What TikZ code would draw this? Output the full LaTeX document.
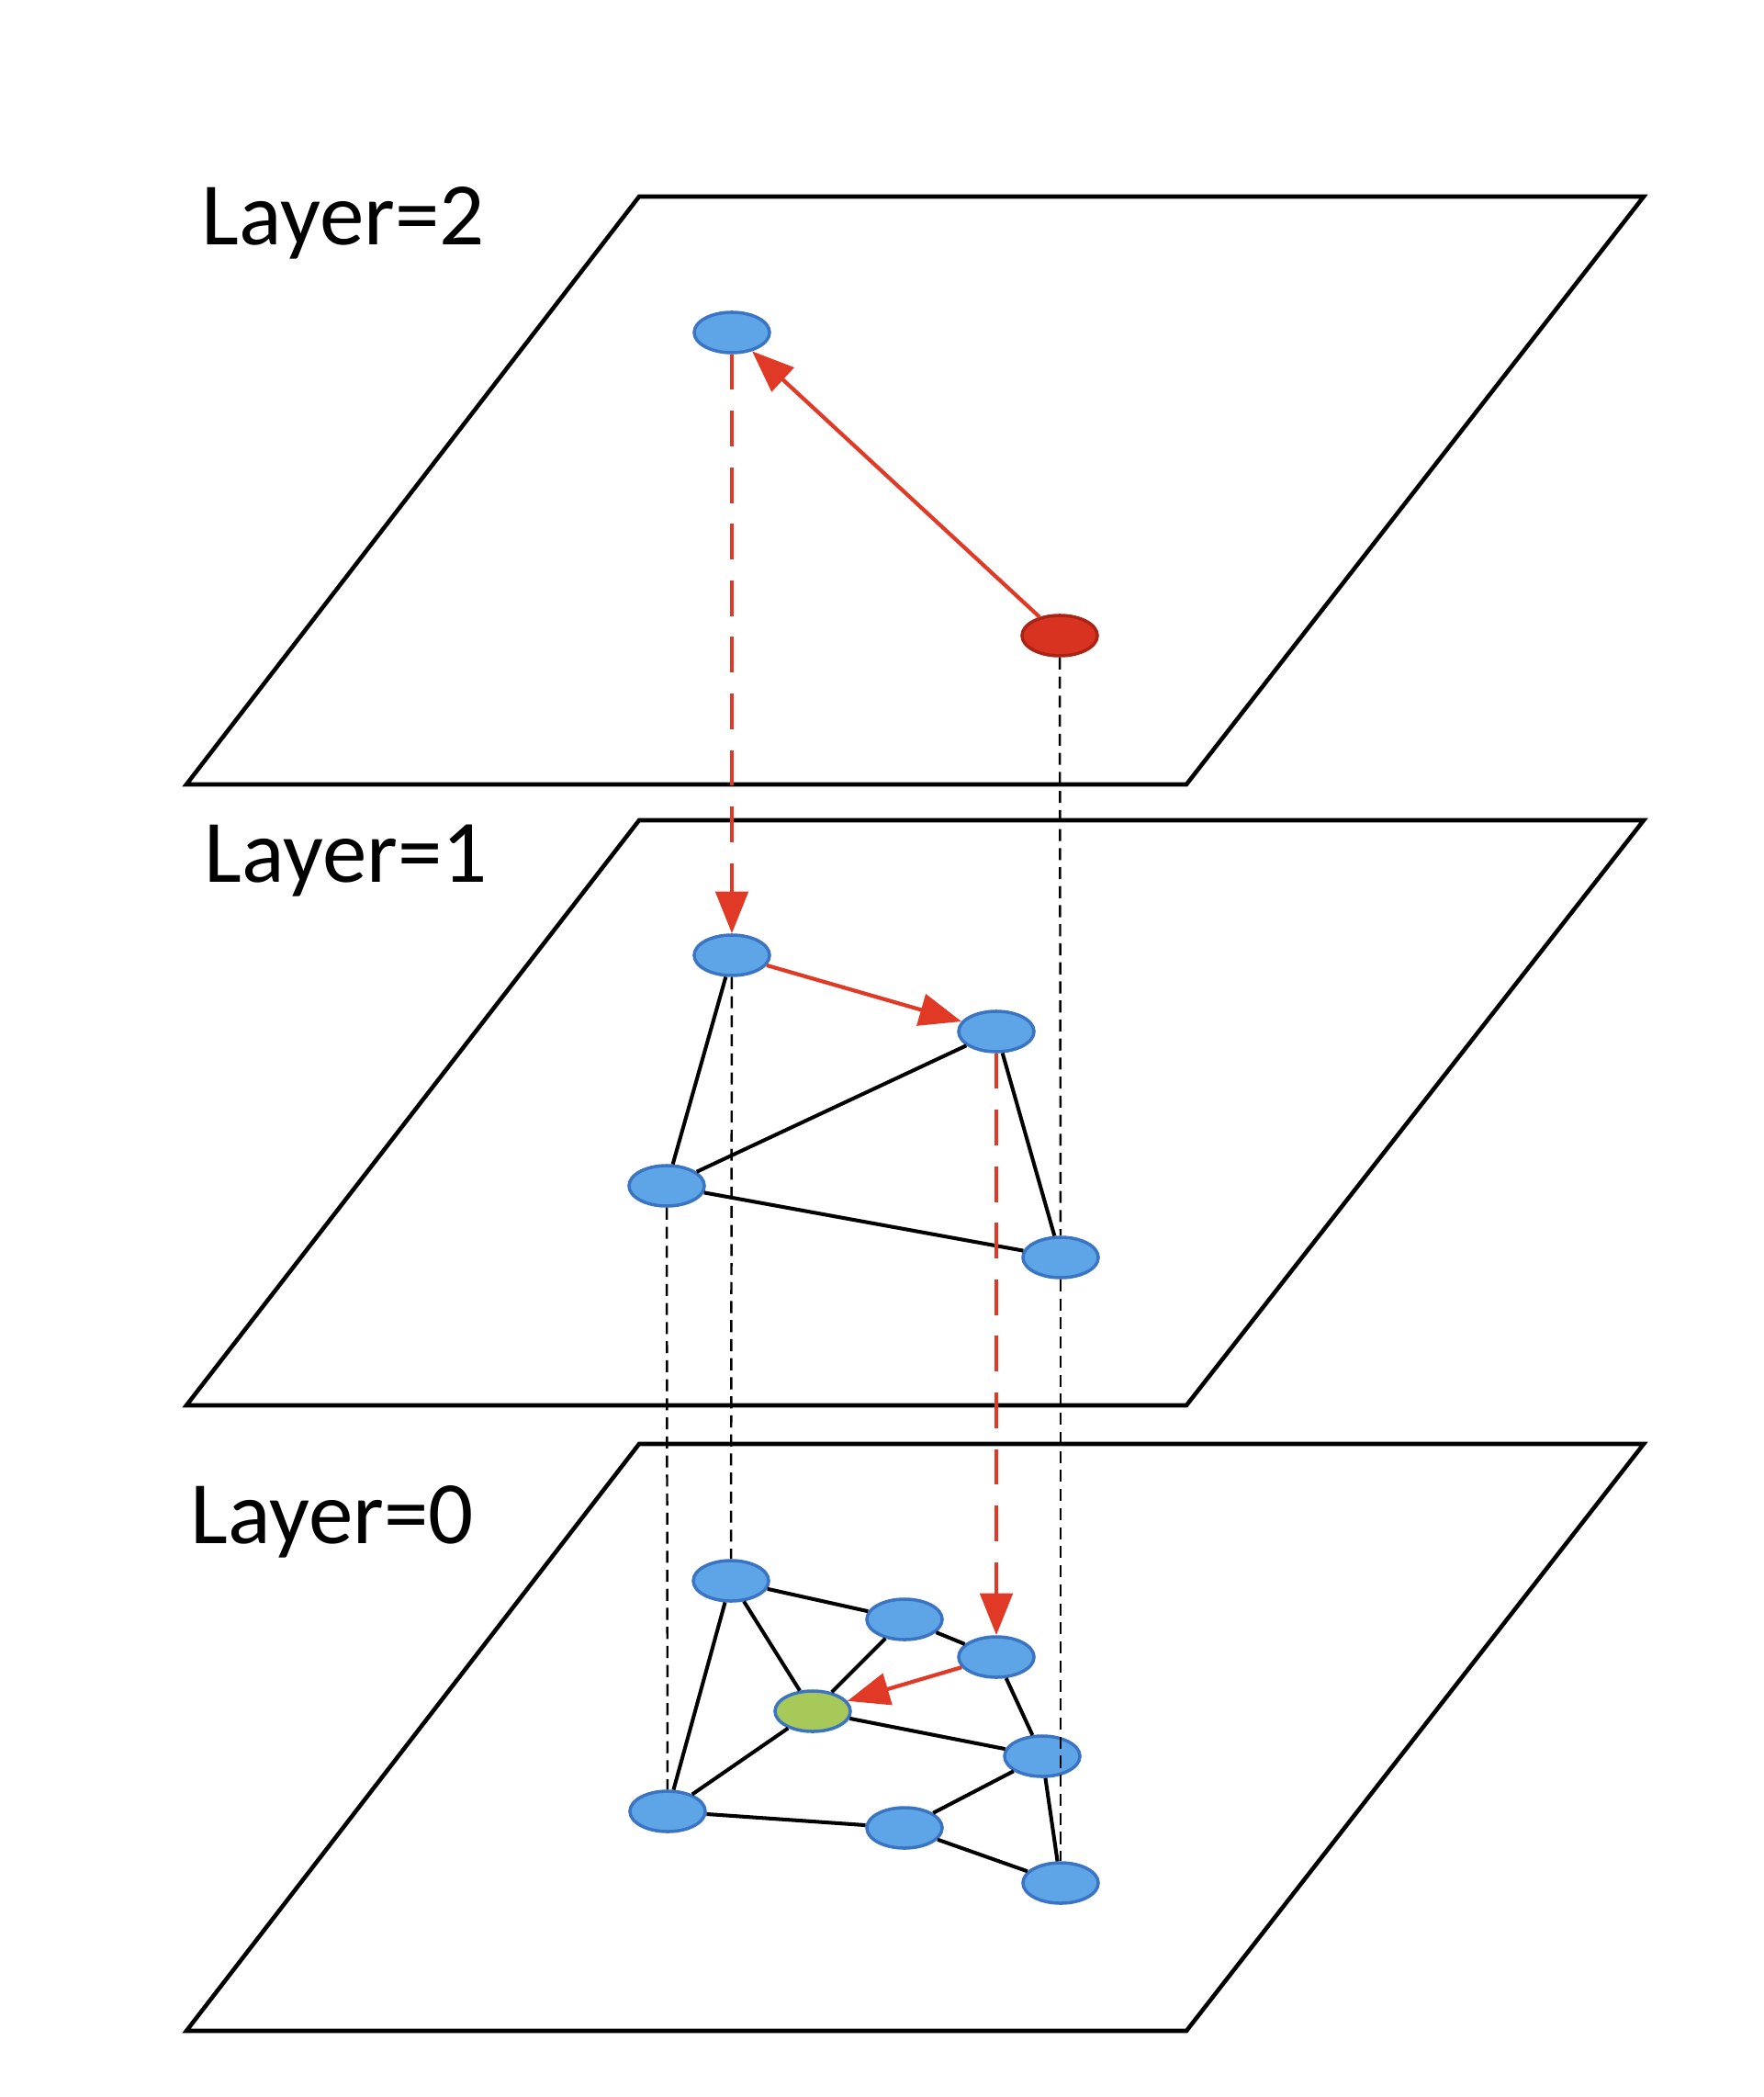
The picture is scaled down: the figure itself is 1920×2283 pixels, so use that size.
\documentclass[tikz,border=0pt]{standalone}
\usepackage{fontspec}
\setmainfont{Carlito}
\usetikzlibrary{arrows.meta,shapes.geometric}
\definecolor{vfill}{RGB}{93,165,230}
\definecolor{vrim}{RGB}{58,116,194}
\definecolor{epfill}{RGB}{216,50,32}
\definecolor{eprim}{RGB}{170,36,22}
\definecolor{hitfill}{RGB}{166,201,90}
\definecolor{hopred}{RGB}{224,58,39}

\begin{document}
\begin{tikzpicture}[x=0.01cm,y=-0.01cm,
    vtx/.style={ellipse,draw=vrim,fill=vfill,line width=1pt,minimum width=0.82cm,minimum height=0.44cm,inner sep=0pt},
    link/.style={line width=1.15pt},
    drop/.style={line width=0.7pt,dash pattern=on 3.7pt off 2.2pt},
    hop/.style={draw=hopred,line width=1.2pt,-{Triangle[length=13pt,width=10pt]}},
    descend/.style={hop,line width=1.4pt,dash pattern=on 11pt off 6.5pt}]
\useasboundingbox (0,0) rectangle (1920,2283);
% the three planes with their labels
\foreach \t/\b/\k/\lx/\ly in {214/854/2/219/267, 893/1530/1/222/960, 1572/2211/0/207/1680}{
    \draw[line width=1.3pt] (696,\t) -- (1790,\t) -- (1292,\b) -- (203,\b) -- cycle;
    \node[anchor=base west,inner sep=0pt,font=\fontsize{27.6}{33}\selectfont] (lbl\k) at (\lx,\ly) {Layer=\k};
}
% layer 2
\node[vtx] (top2) at (797,362) {};
\node[vtx,fill=epfill,draw=eprim] (ep2) at (1154,692) {};
% layer 1
\node[vtx] (a1) at (797,1040) {};
\node[vtx] (b1) at (1085,1123) {};
\node[vtx] (c1) at (726,1291) {};
\node[vtx] (d1) at (1155,1369) {};
% layer 0
\node[vtx] (a0) at (796,1721) {};
\node[vtx] (b0) at (985,1763) {};
\node[vtx] (c0) at (1085,1804) {};
\node[vtx,fill=hitfill] (g0) at (885,1863) {};
\node[vtx] (e0) at (1135,1912) {};
\node[vtx] (f0) at (727,1972) {};
\node[vtx] (h0) at (985,1990) {};
\node[vtx] (i0) at (1155,2050) {};
\foreach \u/\v in {a1/c1,c1/b1,c1/d1,b1/d1,a0/b0,a0/g0,a0/f0,b0/c0,b0/g0,c0/e0,g0/e0,g0/f0,f0/h0,h0/e0,h0/i0,e0/i0}
    \draw[link] (\u) -- (\v);
\foreach \u/\v in {ep2/d1,d1/i0,a1/a0,c1/f0}
    \draw[drop] (\u) -- (\v);
% search path
\draw[hop] (ep2) -- (top2);
\draw[descend] (top2) -- (a1);
\draw[hop] (a1) -- (b1);
\draw[descend] (b1) -- (c0);
\draw[hop] (c0) -- (g0);
\end{tikzpicture}
\end{document}
